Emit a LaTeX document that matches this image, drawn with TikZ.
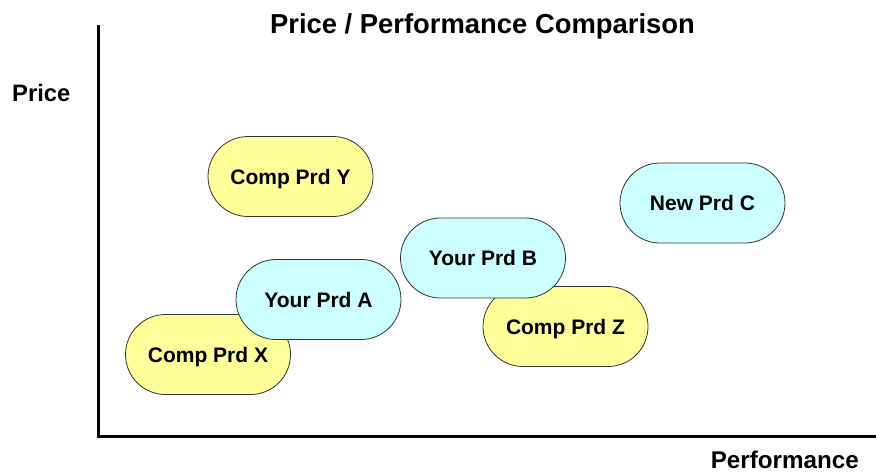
\documentclass[tikz,border=0pt]{standalone}
\usepackage{fontspec}
\setmainfont{Liberation Sans}
\definecolor{compfill}{HTML}{FFFF99}
\definecolor{ownfill}{HTML}{CCFFFF}
\definecolor{edgegray}{HTML}{333333}
\begin{document}
\begin{tikzpicture}[x=1pt,y=-1pt,
  prd/.style={draw=edgegray, line width=0.8pt, rectangle, rounded corners=40pt,
    minimum width=165pt, minimum height=80pt, inner sep=0pt, text depth=0pt,
    font=\fontsize{21}{24}\selectfont\bfseries},
  comp/.style={prd, fill=compfill},
  own/.style={prd, fill=ownfill},
  axis/.style={line width=3pt, black}]
\useasboundingbox (0,0) rectangle (876,472);
\fill[white] (0,0) rectangle (876,472);
\node[anchor=base, font=\fontsize{27.4}{30}\selectfont\bfseries] (title) at (482.5,33) {Price / Performance Comparison};
\node[anchor=base west, inner sep=0pt, font=\fontsize{23.8}{26}\selectfont\bfseries] (ylab) at (12,101) {Price};
\node[anchor=base east, inner sep=0pt, font=\fontsize{24.2}{26}\selectfont\bfseries] (xlab) at (859,468.5) {Performance};
\coordinate (top) at (98,25);
\coordinate (origin) at (98,436);
\coordinate (right) at (876,436);
\draw[axis] (top) -- (origin) -- (right);
\node[comp] (Y) at (290.5,176.5) {Comp Prd Y};
\node[own] (C) at (702.5,203) {New Prd C};
\node[comp] (Z) at (565.5,326.5) {Comp Prd Z};
\node[own] (B) at (483,258) {Your Prd B};
\node[comp] (X) at (208,354.5) {Comp Prd X};
\node[own] (A) at (318.5,299.5) {Your Prd A};
\end{tikzpicture}
\end{document}
